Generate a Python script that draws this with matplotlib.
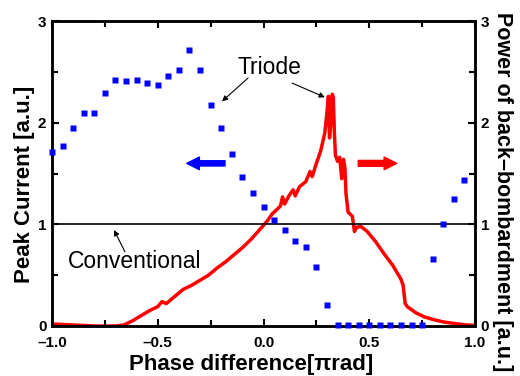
import matplotlib
matplotlib.use('Agg')
import matplotlib.pyplot as plt

plt.rcParams['font.family'] = ['Liberation Sans', 'DejaVu Sans']

# peak current (blue squares, left axis)
phase_pts = [-1.0, -0.95, -0.9, -0.85, -0.8, -0.75, -0.7, -0.65, -0.6, -0.55,
             -0.5, -0.45, -0.4, -0.35, -0.3, -0.25, -0.2, -0.15, -0.1, -0.05,
             0.0, 0.05, 0.1, 0.15, 0.2, 0.25, 0.3, 0.35, 0.4, 0.45,
             0.5, 0.55, 0.6, 0.65, 0.7, 0.75, 0.8, 0.85, 0.9, 0.95]
peak_current = [1.71, 1.77, 1.95, 2.10, 2.10, 2.29, 2.42, 2.41, 2.42, 2.39,
                2.37, 2.46, 2.52, 2.72, 2.52, 2.17, 1.95, 1.69, 1.47, 1.31,
                1.17, 1.04, 0.94, 0.84, 0.78, 0.58, 0.21, 0.01, 0.01, 0.01,
                0.01, 0.01, 0.01, 0.01, 0.01, 0.01, 0.66, 1.00, 1.25, 1.44]

# back-bombardment power (red line, right axis)
phase_line = [-1.0, -0.9, -0.8, -0.7, -0.66, -0.62, -0.58, -0.54, -0.5, -0.48,
              -0.46, -0.42, -0.38, -0.34, -0.3, -0.26, -0.22, -0.18, -0.14, -0.1,
              -0.06, -0.03, 0.0, 0.02, 0.04, 0.06, 0.08, 0.09, 0.1, 0.12,
              0.14, 0.15, 0.17, 0.2, 0.22, 0.23, 0.25, 0.27, 0.29, 0.3,
              0.307, 0.312, 0.318, 0.325, 0.33, 0.335, 0.34, 0.35, 0.36, 0.37,
              0.378, 0.385, 0.39, 0.4, 0.41, 0.42, 0.43, 0.44, 0.46, 0.49,
              0.53, 0.57, 0.61, 0.65, 0.66, 0.67, 0.68, 0.72, 0.76, 0.8,
              0.85, 0.9, 0.95, 1.0]
bombard_power = [0.02, 0.01, 0.0, 0.0, 0.01, 0.05, 0.10, 0.15, 0.19, 0.24,
                 0.22, 0.29, 0.36, 0.40, 0.45, 0.50, 0.57, 0.63, 0.70, 0.77,
                 0.85, 0.92, 0.99, 1.04, 1.10, 1.14, 1.18, 1.27, 1.20, 1.28,
                 1.34, 1.28, 1.37, 1.42, 1.52, 1.47, 1.60, 1.72, 1.90, 2.10,
                 2.26, 1.85, 2.00, 2.28, 2.25, 1.90, 1.68, 1.62, 1.66, 1.45,
                 1.64, 1.55, 1.30, 1.12, 1.10, 1.08, 0.93, 0.97, 0.98, 0.93,
                 0.83, 0.71, 0.60, 0.46, 0.40, 0.22, 0.19, 0.13, 0.09, 0.065,
                 0.04, 0.025, 0.012, 0.005]

fig = plt.figure(figsize=(5.2, 3.76), dpi=100)
ax = fig.add_axes([0.1, 0.133, 0.8135, 0.811])
ax2 = ax.twinx()

ax.axhline(1.0, color='black', lw=1.2, zorder=1)
ax2.plot(phase_line, bombard_power, color='#ff0000', lw=2.5, zorder=2)
ax.plot(phase_pts, peak_current, 's', color='#0000ff', ms=5, mec='none',
        clip_on=False, zorder=3)
ax.set_zorder(ax2.get_zorder() + 1)
ax.patch.set_visible(False)

for a in (ax, ax2):
    a.set_xlim(-1, 1)
    a.set_ylim(0, 3)
    a.set_yticks([0, 1, 2, 3])
    a.set_yticks([0.5, 1.5, 2.5], minor=True)
    for s in a.spines.values():
        s.set_linewidth(1.8)
ax.set_xticks([-1.0, -0.5, 0.0, 0.5, 1.0])
ax.set_xticks([-0.75, -0.25, 0.25, 0.75], minor=True)
ax.set_xticklabels(['\u20131.0', '\u20130.5', '0.0', '0.5', '1.0'])
ax.tick_params(which='both', direction='in', top=True, width=1.5,
               labelsize=11, pad=4)
ax.tick_params(axis='x', which='both', pad=7)
ax.tick_params(which='major', length=5)
ax.tick_params(which='minor', length=4)
ax2.tick_params(which='both', direction='in', width=1.5, labelsize=11, pad=4)
ax2.tick_params(which='major', length=5)
ax2.tick_params(which='minor', length=4)
for lab in ax.get_xticklabels() + ax.get_yticklabels() + ax2.get_yticklabels():
    lab.set_fontweight('bold')

ax.set_xlabel('Phase difference[\u03c0rad]', fontsize=16, fontweight='bold', labelpad=3)
ax.set_ylabel('Peak Current [a.u.]', fontsize=16, fontweight='bold', labelpad=2)
ax2.set_ylabel('Power of back\u2013bombardment [a.u.]', fontsize=15.5,
               fontweight='bold', rotation=-90, labelpad=17)
ax.xaxis.label.set_x(0.47)
ax.yaxis.label.set_y(0.466)
ax2.yaxis.label.set_y(0.44)

# annotations
ax.text(0.03, 2.54, 'Triode', fontsize=16.5, ha='center', va='center')
ax.annotate('', xy=(-0.196, 2.21), xytext=(-0.073, 2.44),
            arrowprops=dict(arrowstyle='-|>', color='black', lw=0.8,
                            mutation_scale=8, shrinkA=0, shrinkB=0))
ax.annotate('', xy=(0.29, 2.25), xytext=(0.135, 2.39),
            arrowprops=dict(arrowstyle='-|>', color='black', lw=0.8,
                            mutation_scale=8, shrinkA=0, shrinkB=0))
ax.text(-0.607, 0.63, 'Conventional', fontsize=16.5, ha='center', va='center')
ax.annotate('', xy=(-0.707, 0.944), xytext=(-0.655, 0.73),
            arrowprops=dict(arrowstyle='-|>', color='black', lw=0.8,
                            mutation_scale=8, shrinkA=0, shrinkB=0))

# fat direction arrows
ax.annotate('', xy=(-0.363, 1.60), xytext=(-0.182, 1.60),
            arrowprops=dict(arrowstyle='simple,head_length=0.65,head_width=0.65,tail_width=0.27',
                            color='#0000ff', mutation_scale=14, shrinkA=0, shrinkB=0))
ax.annotate('', xy=(0.63, 1.60), xytext=(0.448, 1.60),
            arrowprops=dict(arrowstyle='simple,head_length=0.65,head_width=0.65,tail_width=0.3',
                            color='#ff0000', mutation_scale=14, shrinkA=0, shrinkB=0))

fig.savefig('out.png', dpi=100)
